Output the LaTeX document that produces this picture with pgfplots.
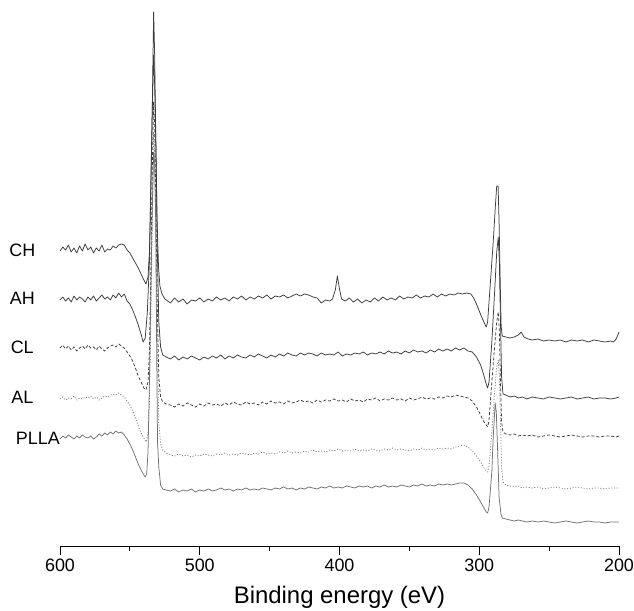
\documentclass[border=0pt]{standalone}
\usepackage{fontspec}
\setmainfont{Liberation Sans}
\usepackage{pgfplots}
\pgfplotsset{compat=1.18}
\definecolor{specdark}{HTML}{3C3C3C}
\definecolor{specgray}{HTML}{707070}

\begin{document}
\begin{tikzpicture}
\useasboundingbox (-60bp,-65bp) rectangle (574bp,546bp);
\begin{axis}[at={(0,0)},anchor=south west,scale only axis,width=559bp,height=546bp,
xmin=200,xmax=600,ymin=6,ymax=552,x dir=reverse,clip=false,
axis x line*=bottom,axis y line=none,
xtick={200,300,400,500,600},minor xtick={250,350,450,550},
tick align=outside,major tick length=9bp,minor tick length=5bp,
every tick/.style={black,line width=0.8bp},
x axis line style={line width=0.8bp},
ticklabel style={font=\fontsize{18}{18}\selectfont},
/pgf/number format/assume math mode=true,
xlabel={Binding energy (eV)},
xlabel style={font=\fontsize{24}{24}\selectfont,at={(axis description cs:0.5,0)},anchor=center,yshift=-51bp},
every axis plot/.append style={line width=0.75bp,line join=round}]

% CH
\addplot[specdark] coordinates {
(600,301) (598,305) (596,302) (594,307) (592,300) (590,304) (588,299) (586,306) (584,301) (582,308)
(580,302) (578,305) (576,299) (574,304) (572,301) (570,307) (568,300) (566,303) (564,302) (562,306)
(560,304) (558,307) (556,308) (554,307) (552,302) (550,299) (548,294) (546,289) (544,284) (542,278)
(540,272) (538.5,268) (537,275) (536,300) (535,360) (534,440) (533,540) (532.3,500) (531.5,420)
(530.5,330) (529.5,285) (528.5,266) (527,258) (525,253)
(524,252) (521,249) (518,254) (515,250) (512,253) (509,248) (506,252) (503,251) (500,254) (497,250)
(494,253) (491,251) (488,255) (485,252) (482,254) (479,251) (476,255) (473,253) (470,256) (467,252)
(464,255) (461,253) (458,256) (455,254) (452,257) (449,253) (446,256) (443,255) (440,257) (437,254)
(434,256) (431,258) (428,256) (425,258) (422,257) (419,255) (416,254) (413,249) (410,252) (407,251)
(405,253) (403,262) (401.5,276) (400,263) (398.5,253) (396,251) (393,254) (390,250) (387,253) (384,249)
(381,252) (378,250) (375,254) (372,251) (369,255) (366,252) (363,254) (360,252) (357,256) (354,253)
(351,255) (348,254) (345,257) (342,254) (339,256) (336,255) (333,258) (330,255) (327,258) (324,256)
(321,258) (318,257) (315,259) (312,258) (309,259) (306,258) (304,254) (302,248) (300,241) (298,234)
(296,228) (295,225) (294,230) (292,270) (290,310) (288.5,345) (287.5,366) (286.5,366) (285.8,330)
(285,270) (284.3,225) (283.5,216) (281,215) (278,214) (275,215) (272,217) (270,220) (268,215) (265,213)
(262,212) (258,213) (254,211) (250,212) (246,211) (242,212) (238,210) (234,212) (230,211) (226,212)
(222,210) (218,212) (214,211) (210,210) (206,211) (204,210) (202,213) (200,220)};

% AH
\addplot[specdark] coordinates {
(600,252) (598,255) (596,251) (594,254) (592,250) (590,256) (588,252) (586,255) (584,253) (582,250)
(580,255) (578,252) (576,256) (574,251) (572,254) (570,257) (568,253) (566,255) (564,252) (562,257)
(560,254) (558,259) (556,255) (554,258) (552,251) (550,248) (548,242) (546,235) (544,227) (542,218)
(540.5,210) (539,214) (537.5,240) (536,290) (535,370) (534,440) (533,497) (532.3,470) (531.3,400)
(530.3,300) (529.3,230) (528,205) (526.5,197) (524,195)
(521,193) (518,196) (515,192) (512,195) (509,193) (506,196) (503,194) (500,192) (497,195) (494,193)
(491,196) (488,194) (485,197) (482,193) (479,196) (476,194) (473,197) (470,195) (467,194) (464,197)
(461,195) (458,198) (455,196) (452,194) (449,197) (446,195) (443,198) (440,196) (437,199) (434,197)
(431,196) (428,199) (425,197) (422,199) (419,198) (416,196) (413,199) (410,197) (407,198) (404,197)
(401,200) (398,196) (395,198) (392,197) (389,199) (386,198) (383,200) (380,197) (377,199) (374,198)
(371,200) (368,198) (365,201) (362,199) (359,200) (356,198) (353,201) (350,199) (347,202) (344,200)
(341,201) (338,199) (335,202) (332,200) (329,203) (326,201) (323,203) (320,201) (317,204) (314,202)
(311,204) (308,201) (305,200) (302,195) (299,187) (297,178) (295,168) (294,164) (293,170) (291,210)
(289,260) (287.5,300) (286.4,315) (285.6,290) (284.8,230) (284,175) (283,158) (281,157) (278,155)
(275,156) (272,154) (269,155) (266,153) (262,155) (258,154) (254,153) (250,155) (246,154) (242,153)
(238,154) (234,155) (230,153) (226,154) (222,155) (218,153) (214,154) (210,154) (206,153) (202,154)
(200,155)};

% CL
\addplot[specdark,dash pattern=on 3bp off 2bp] coordinates {
(600,204) (598,207) (596,203) (594,206) (592,202) (590,205) (588,201) (586,204) (584,206) (582,203)
(580,207) (578,204) (576,205) (574,202) (572,206) (570,203) (568,201) (566,204) (564,206) (562,207)
(560,205) (558,208) (556,206) (554,204) (552,200) (550,196) (548,191) (546,184) (544,176) (542,170)
(540,164) (538.5,162) (537,170) (536,200) (535,280) (534,380) (533,450) (532.3,430) (531.3,340)
(530.3,240) (529.3,175) (528,155) (526.5,150) (524,148)
(521,147) (518,145) (515,148) (512,146) (509,149) (506,147) (503,145) (500,148) (497,146) (494,149)
(491,147) (488,148) (485,146) (482,149) (479,147) (476,150) (473,148) (470,147) (467,150) (464,148)
(461,149) (458,147) (455,150) (452,148) (449,151) (446,149) (443,150) (440,148) (437,151) (434,149)
(431,150) (428,152) (425,150) (422,151) (419,149) (416,152) (413,150) (410,152) (407,151) (404,153)
(401,151) (398,152) (395,150) (392,153) (389,151) (386,152) (383,150) (380,153) (377,152) (374,154)
(371,151) (368,153) (365,152) (362,154) (359,152) (356,153) (353,151) (350,154) (347,152) (344,153)
(341,155) (338,153) (335,154) (332,153) (329,155) (326,154) (323,156) (320,155) (317,157) (314,156)
(311,155) (308,154) (305,151) (302,145) (299,137) (297,131) (295,127) (294,125) (293,132) (291,170)
(289,205) (287.5,230) (286.4,240) (285.6,220) (284.8,170) (284,130) (283,120) (281,118) (278,117)
(275,118) (272,116) (269,117) (266,116) (262,117) (258,115) (254,116) (250,117) (246,116) (242,115)
(238,116) (234,117) (230,116) (226,115) (222,116) (218,116) (214,115) (210,116) (206,116) (202,115)
(200,116)};

% AL
\addplot[specgray,dash pattern=on 1bp off 1.8bp] coordinates {
(600,153) (598,155) (596,152) (594,154) (592,153) (590,156) (588,152) (586,154) (584,153) (582,155)
(580,154) (578,156) (576,153) (574,155) (572,152) (570,154) (568,156) (566,155) (564,157) (562,158)
(560,157) (558,159) (556,157) (554,155) (552,151) (550,147) (548,141) (546,134) (544,126) (542,119)
(540,114) (538.5,110) (537,118) (536,150) (535,230) (534,330) (533,420) (532.3,400) (531.3,310)
(530.3,200) (529.3,130) (528,108) (526.5,102) (524,99)
(521,97) (518,96) (515,98) (512,96) (509,97) (506,95) (503,97) (500,96) (497,98) (494,97)
(491,96) (488,98) (485,97) (482,99) (479,97) (476,98) (473,97) (470,99) (467,98) (464,97)
(461,99) (458,98) (455,100) (452,98) (449,99) (446,98) (443,100) (440,99) (437,101) (434,99)
(431,100) (428,99) (425,101) (422,100) (419,102) (416,100) (413,101) (410,100) (407,102) (404,101)
(401,103) (398,101) (395,102) (392,101) (389,103) (386,101) (383,102) (380,101) (377,103) (374,102)
(371,101) (368,103) (365,102) (362,104) (359,102) (356,103) (353,102) (350,101) (347,103) (344,102)
(341,104) (338,102) (335,103) (332,102) (329,104) (326,103) (323,104) (320,103) (317,105) (314,106)
(311,107) (308,105) (305,101) (302,96) (299,90) (297,85) (295,81) (294,80) (293,86) (291,120)
(289,160) (287.5,185) (286.4,192) (285.6,175) (284.8,130) (284,85) (283,70) (281,67) (278,66)
(275,65) (272,66) (269,64) (266,65) (262,64) (258,65) (254,63) (250,64) (246,65) (242,64)
(238,63) (234,64) (230,65) (226,64) (222,63) (218,64) (214,64) (210,63) (206,64) (202,64)
(200,64)};

% PLLA
\addplot[specgray] coordinates {
(600,113) (598,116) (596,114) (594,117) (592,115) (590,113) (588,116) (586,114) (584,117) (582,115)
(580,114) (578,116) (576,113) (574,115) (572,118) (570,116) (568,119) (566,117) (564,120) (562,118)
(560,121) (558,119) (556,120) (554,117) (552,113) (550,108) (548,102) (546,95) (544,88) (542,82)
(540,77) (539,75) (538,78) (537,100) (536,170) (535,260) (534,340) (533,400) (532.3,390) (531.5,330)
(530.8,200) (530.2,110) (529.3,85) (528,67) (526.5,63) (524,62)
(521,61) (518,63) (515,60) (512,62) (509,61) (506,63) (503,60) (500,62) (497,61) (494,63)
(491,61) (488,62) (485,64) (482,62) (479,63) (476,61) (473,63) (470,62) (467,64) (464,62)
(461,63) (458,62) (455,64) (452,63) (449,62) (446,64) (443,63) (440,65) (437,63) (434,64)
(431,62) (428,64) (425,63) (422,65) (419,64) (416,63) (413,65) (410,64) (407,66) (404,64)
(401,65) (398,64) (395,66) (392,65) (389,64) (386,66) (383,65) (380,66) (377,64) (374,66)
(371,65) (368,67) (365,65) (362,66) (359,65) (356,67) (353,66) (350,65) (347,67) (344,66)
(341,68) (338,66) (335,67) (332,66) (329,68) (326,67) (323,68) (320,67) (317,68) (314,69)
(311,69) (308,67) (305,63) (302,57) (299,50) (297,45) (295,40) (294,39) (293,45) (291,80)
(290,115) (288.6,149) (287.8,140) (286.8,100) (285.8,55) (284.5,38) (283.5,34) (281,33) (278,32)
(275,31) (272,32) (269,31) (266,30) (262,31) (258,30) (254,31) (250,30) (246,29) (242,30)
(238,31) (234,30) (230,29) (226,30) (222,31) (218,30) (214,30) (210,29) (206,30) (202,30)
(200,30)};

\node[font=\fontsize{18}{18}\selectfont] at (axis cs:627,302) {CH};
\node[font=\fontsize{18}{18}\selectfont] at (axis cs:627,254) {AH};
\node[font=\fontsize{18}{18}\selectfont] at (axis cs:627,205) {CL};
\node[font=\fontsize{18}{18}\selectfont] at (axis cs:627,155) {AL};
\node[font=\fontsize{18}{18}\selectfont,anchor=east,inner sep=0pt] at (axis cs:600,114) {PLLA};
\end{axis}
\end{tikzpicture}
\end{document}
